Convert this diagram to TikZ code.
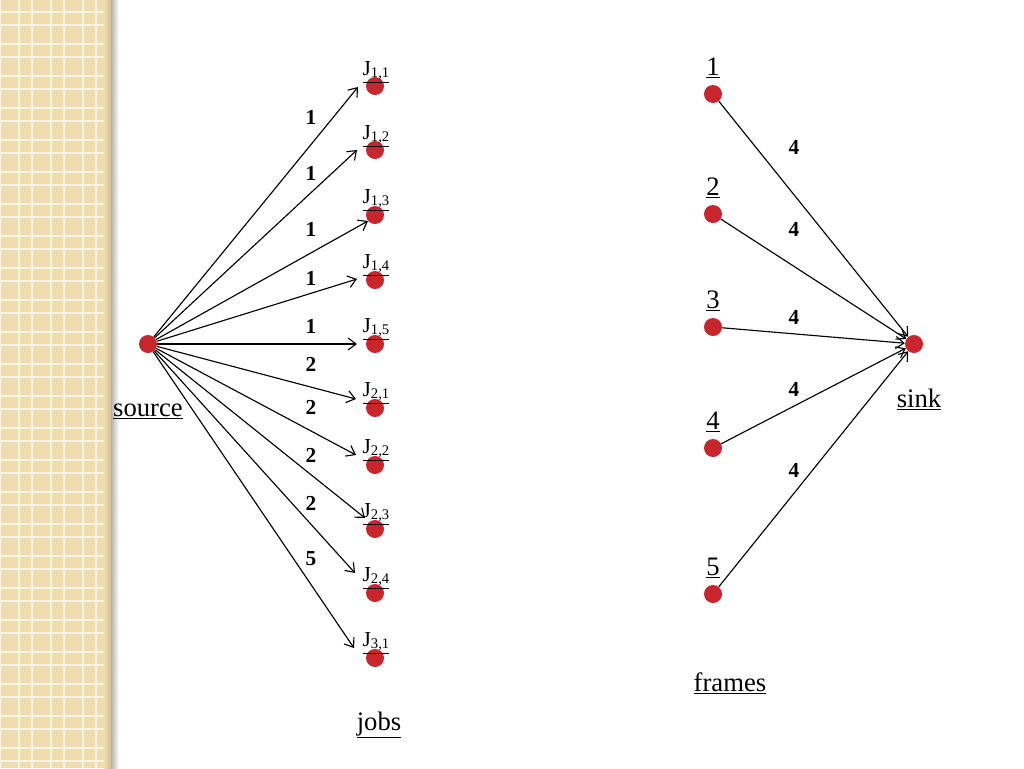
\documentclass[tikz,border=0pt]{standalone}
\usepackage{fontspec}
\setmainfont{Liberation Serif}
\usetikzlibrary{arrows.meta}
\definecolor{dotred}{RGB}{200,38,44}
\definecolor{beige}{RGB}{240,220,172}
\definecolor{gridw}{RGB}{250,244,226}
\definecolor{beigedark}{RGB}{205,190,150}
\newcommand\jsub[1]{\raisebox{-0.3ex}{\fontsize{11}{13}\selectfont #1}}
\tikzset{
  dot/.style={circle, fill=dotred, inner sep=0pt, minimum size=13.5pt},
  edge/.style={draw=black, line width=0.85pt, -{Straight Barb[length=6pt,width=9pt,line width=0.85pt]}},
  wlab/.style={font=\fontsize{16}{18}\selectfont\bfseries, inner sep=0pt},
  jlab/.style={font=\fontsize{16}{18}\selectfont, anchor=base, inner sep=0pt},
  biglab/.style={font=\fontsize{20}{24}\selectfont, anchor=base, inner sep=0pt},
  gridline/.style={draw=gridw, line width=1.1pt},
}
\begin{document}
\begin{tikzpicture}[x=0.75pt,y=-0.75pt]
\useasboundingbox (0,0) rectangle (1024,768);
\fill[white] (0,0) rectangle (1024,768);
% patterned strip
\fill[beige] (0,0) rectangle (110,768);
\begin{scope}
\clip (0,0) rectangle (110,768);
\foreach \k in {0,...,4} {
  \draw[gridline] (32*\k,0) -- (32*\k,768);
  \draw[gridline] (32*\k+19,0) -- (32*\k+19,768);
}
\foreach \k in {0,...,24} {
  \draw[gridline] (0,32*\k+12) -- (110,32*\k+12);
  \draw[gridline] (0,32*\k+25) -- (110,32*\k+25);
}
\end{scope}
\shade[left color=beige, right color=beigedark] (104,0) rectangle (111,768);
\shade[left color=black!30, right color=white] (111,0) rectangle (119,768);

% source
\node[dot] (src) at (148,344) {};
\node[biglab] (srclab) at (148,416) {\underline{source}};

% jobs
\node[dot] (j11) at (375,86) {};
\node[dot] (j12) at (375,150) {};
\node[dot] (j13) at (375,215) {};
\node[dot] (j14) at (375,280) {};
\node[dot] (j15) at (375,344) {};
\node[dot] (j21) at (375,408) {};
\node[dot] (j22) at (375,465) {};
\node[dot] (j23) at (375,529) {};
\node[dot] (j24) at (375,593) {};
\node[dot] (j31) at (375,658) {};

\node[jlab] (l11) at (376,75) {\underline{J\jsub{1,1}}};
\node[jlab] (l12) at (376,139) {\underline{J\jsub{1,2}}};
\node[jlab] (l13) at (376,203) {\underline{J\jsub{1,3}}};
\node[jlab] (l14) at (376,268) {\underline{J\jsub{1,4}}};
\node[jlab] (l15) at (376,332) {\underline{J\jsub{1,5}}};
\node[jlab] (l21) at (376,396) {\underline{J\jsub{2,1}}};
\node[jlab] (l22) at (376,453) {\underline{J\jsub{2,2}}};
\node[jlab] (l23) at (376,517) {\underline{J\jsub{2,3}}};
\node[jlab] (l24) at (376,581) {\underline{J\jsub{2,4}}};
\node[jlab] (l31) at (376,646) {\underline{J\jsub{3,1}}};

\node[biglab] (jobslab) at (379,730) {\underline{jobs}};

% arrow tips
\coordinate (t11) at (358,87);
\coordinate (t12) at (357,150);
\coordinate (t13) at (368,221);
\coordinate (t14) at (357,279);
\coordinate (t15) at (357,344);
\coordinate (t21) at (356,399);
\coordinate (t22) at (356,455);
\coordinate (t23) at (365,518);
\coordinate (t24) at (355,573);
\coordinate (t31) at (354,648);

\foreach \t in {t11,t12,t13,t14,t15,t21,t22,t23,t24,t31}
  \draw[edge] (src) -- (\t);

% source edge weights
\node[wlab] (w11) at (311,117) {1};
\node[wlab] (w12) at (311,173) {1};
\node[wlab] (w13) at (311,229) {1};
\node[wlab] (w14) at (311,278) {1};
\node[wlab] (w15) at (311,326) {1};
\node[wlab] (w21) at (311,364) {2};
\node[wlab] (w22) at (311,407) {2};
\node[wlab] (w23) at (311,455) {2};
\node[wlab] (w24) at (311,503) {2};
\node[wlab] (w31) at (311,559) {5};

% frames
\node[dot] (f1) at (713,94) {};
\node[dot] (f2) at (713,214) {};
\node[dot] (f3) at (713,327) {};
\node[dot] (f4) at (713,448) {};
\node[dot] (f5) at (713,594) {};
\node[biglab] (fl1) at (713,75) {\underline{1}};
\node[biglab] (fl2) at (713,195) {\underline{2}};
\node[biglab] (fl3) at (713,308) {\underline{3}};
\node[biglab] (fl4) at (713,429) {\underline{4}};
\node[biglab] (fl5) at (713,575) {\underline{5}};
\node[biglab] (frameslab) at (730,691) {\underline{frames}};

% sink
\node[dot] (sink) at (914,344) {};
\node[biglab] (sinklab) at (919,407) {\underline{sink}};

\foreach \f in {f1,f2,f3,f4,f5}
  \draw[edge] (\f) -- (sink);

\node[wlab] (v1) at (794,147) {4};
\node[wlab] (v2) at (794,229) {4};
\node[wlab] (v3) at (794,317) {4};
\node[wlab] (v4) at (794,389) {4};
\node[wlab] (v5) at (794,470) {4};
\end{tikzpicture}
\end{document}
